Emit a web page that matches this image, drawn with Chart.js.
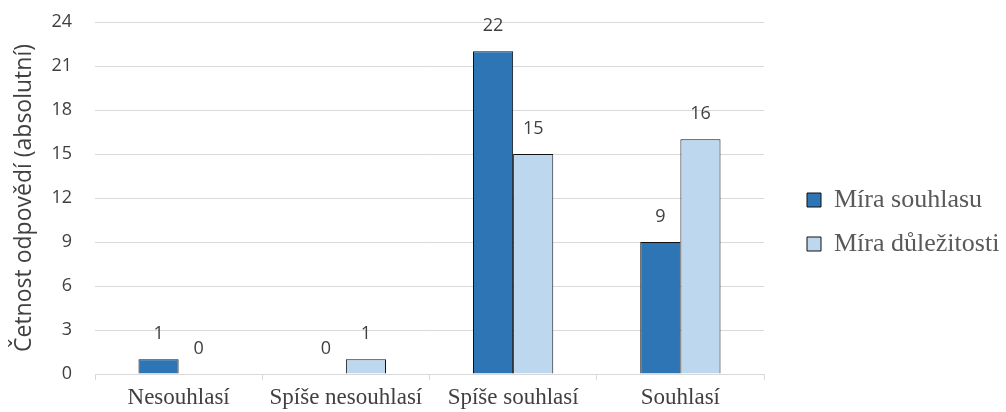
<!DOCTYPE html>
<html>
<head>
<meta charset="utf-8">
<script src="https://cdn.jsdelivr.net/npm/chart.js@4/dist/chart.umd.min.js"></script>
<style>
  html, body { margin: 0; padding: 0; background: #fff; }
  #wrap { width: 1006px; height: 412px; }
</style>
</head>
<body>
<div id="wrap"><canvas id="chart"></canvas></div>
<script>
// data
const categories = ['Nesouhlasí', 'Spíše nesouhlasí', 'Spíše souhlasí', 'Souhlasí'];
const seriesNames = ['Míra souhlasu', 'Míra důležitosti'];
const agreement = [1, 0, 22, 9];
const importance = [0, 1, 15, 16];
const yTicks = [0, 3, 6, 9, 12, 15, 18, 21, 24];
const seriesColors = ['#2E75B6', '#BDD7EE'];

const LEGEND_WIDTH = 240;
const LEGEND_SHIFT = 25;

// value labels above each bar
const valueLabels = {
    id: 'valueLabels',
    afterDatasetsDraw(chart) {
        const ctx = chart.ctx;
        ctx.save();
        ctx.font = '18px "Open Sans"';
        ctx.fillStyle = '#404040';
        ctx.textAlign = 'center';
        ctx.textBaseline = 'middle';
        chart.data.datasets.forEach((ds, i) => {
            chart.getDatasetMeta(i).data.forEach((bar, j) => {
                ctx.fillText(String(ds.data[j]), bar.x, bar.y - 25);
            });
        });
        ctx.restore();
    }
};

// fixed-width legend column, contents pushed right to leave a gap after the plot
const legendGap = {
    id: 'legendGap',
    beforeLayout(chart) {
        const lg = chart.legend;
        if (lg && !lg._gapPatched) {
            const fit = lg.fit;
            lg.fit = function () {
                fit.call(this);
                this.width = LEGEND_WIDTH;
            };
            lg._gapPatched = true;
        }
    },
    afterLayout(chart) {
        const lg = chart.legend;
        if (lg) {
            lg.left += LEGEND_SHIFT;
            lg.top += 5;
            lg.bottom += 5;
        }
    }
};

const ctx = document.getElementById('chart').getContext('2d');
new Chart(ctx, {
    type: 'bar',
    data: {
        labels: categories,
        datasets: [{
            label: seriesNames[0],
            data: agreement,
            backgroundColor: seriesColors[0],
            borderColor: '#111',
            borderWidth: c => c.raw === 0 ? 0 : 1
        }, {
            label: seriesNames[1],
            data: importance,
            backgroundColor: seriesColors[1],
            borderColor: '#111',
            borderWidth: c => c.raw === 0 ? 0 : 1
        }]
    },
    options: {
        responsive: true,
        maintainAspectRatio: false,
        animation: false,
        layout: { padding: { top: 22, right: 2, bottom: 0, left: 6 } },
        datasets: {
            bar: { categoryPercentage: 0.48, barPercentage: 1 }
        },
        scales: {
            x: {
                afterFit: axis => { axis.height = 38; },
                grid: {
                    offset: true,
                    drawOnChartArea: false,
                    drawTicks: true,
                    tickLength: 6,
                    color: '#d9d9d9'
                },
                border: { display: true, color: '#d9d9d9' },
                ticks: {
                    color: '#404040',
                    font: { family: '"Liberation Serif"', size: 23 },
                    padding: 4
                }
            },
            y: {
                min: 0,
                max: 24,
                afterFit: axis => {
                    axis.width = 89;
                    axis.paddingTop = 0;
                    axis.paddingBottom = 0;
                },
                afterBuildTicks: axis => { axis.ticks = yTicks.map(v => ({ value: v })); },
                grid: { color: '#d9d9d9', drawTicks: false },
                border: { display: false },
                ticks: {
                    color: '#404040',
                    font: { family: '"Open Sans"', size: 18 },
                    padding: 23
                },
                title: {
                    display: true,
                    text: 'Četnost odpovědí (absolutní)',
                    color: '#404040',
                    font: { family: '"Open Sans"', size: 23 },
                    padding: { top: 5, bottom: 0 }
                }
            }
        },
        plugins: {
            legend: {
                position: 'right',
                labels: {
                    boxWidth: 14,
                    boxHeight: 14,
                    padding: 18,
                    color: '#595959',
                    font: { family: '"Liberation Serif"', size: 26 },
                    generateLabels: chart => chart.data.datasets.map((ds, i) => ({
                        text: ds.label,
                        fillStyle: seriesColors[i],
                        strokeStyle: '#111',
                        lineWidth: 1,
                        fontColor: '#595959',
                        datasetIndex: i,
                        hidden: false
                    }))
                }
            },
            tooltip: { enabled: false }
        }
    },
    plugins: [valueLabels, legendGap]
});
</script>
</body>
</html>
